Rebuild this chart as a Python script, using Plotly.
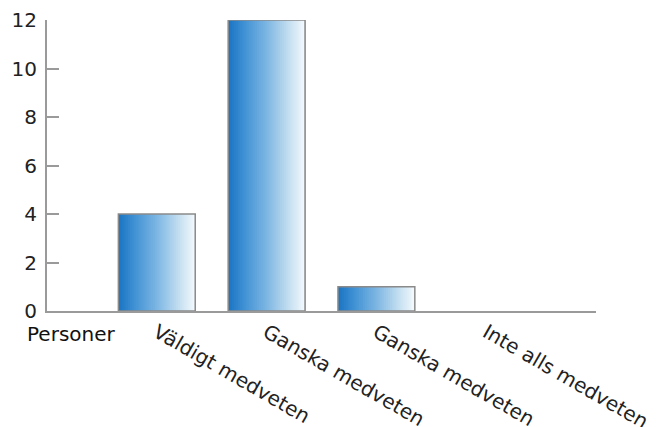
import plotly.graph_objects as go

categories = ["Väldigt medveten", "Ganska medveten", "Ganska medveten", "Inte alls medveten"]
positions = [1, 2, 3, 4]
values = [4, 12, 1, 0]
y_ticks = [0, 2, 4, 6, 8, 10, 12]
row_label = "Personer"

# horizontal gradient stops (left -> right)
stops = [(0.0, (28, 118, 196)), (0.2, (64, 145, 212)), (0.5, (125, 182, 226)),
         (0.8, (196, 223, 241)), (1.0, (242, 248, 252))]


def grad(t):
    for (t0, c0), (t1, c1) in zip(stops[:-1], stops[1:]):
        if t0 <= t <= t1:
            f = (t - t0) / (t1 - t0)
            return "rgb(%d,%d,%d)" % tuple(round(a + (b - a) * f) for a, b in zip(c0, c1))
    return "rgb(%d,%d,%d)" % stops[-1][1]


fig = go.Figure()
W = 0.7
N = 40
for i in range(N):
    fig.add_trace(go.Bar(
        x=positions, y=values,
        width=W * (1 - i / N), offset=-W / 2 + i * W / N,
        marker=dict(color=grad(i / (N - 1)), line=dict(width=0)),
        showlegend=False, hoverinfo="skip",
    ))
fig.add_trace(go.Bar(
    x=positions, y=values, width=W, offset=-W / 2,
    marker=dict(color="rgba(0,0,0,0)",
                line=dict(color="#8a8a8a", width=[1.5 if v > 0 else 0 for v in values])),
    showlegend=False, hoverinfo="skip",
))
# invisible trace to host the end tick on the overlay axis
fig.add_trace(go.Scatter(x=[5], y=[0], xaxis="x2", mode="markers",
                         marker=dict(opacity=0), showlegend=False, hoverinfo="skip"))

fig.update_layout(
    width=656, height=427,
    margin=dict(l=47, r=60, t=20, b=116),
    paper_bgcolor="white", plot_bgcolor="white",
    barmode="overlay",
    font=dict(family="DejaVu Sans", color="#222"),
    xaxis=dict(range=[0, 5], tickvals=positions, ticktext=categories,
               tickangle=30, ticks="", showline=True, linecolor="#9a9a9a",
               linewidth=2, showgrid=False, zeroline=False, automargin=False,
               ticklabeloverflow="allow",
               tickfont=dict(size=20, color="#222")),
    xaxis2=dict(range=[0, 5], overlaying="x", side="bottom", tickvals=[5],
                ticks="inside", ticklen=9, tickcolor="#9a9a9a", tickwidth=2,
                showticklabels=False, showline=False, showgrid=False,
                zeroline=False, automargin=False),
    yaxis=dict(range=[0, 12], tickvals=y_ticks, ticks="inside", ticklen=12,
               tickcolor="#9a9a9a", tickwidth=1.5, showline=True,
               linecolor="#9a9a9a", linewidth=2, showgrid=False, zeroline=False,
               automargin=False, ticklabelstandoff=4, ticklabeloverflow="allow",
               tickfont=dict(size=20, color="#222")),
    annotations=[dict(text=row_label, xref="paper", yref="paper",
                      x=-0.04, y=-0.079, xanchor="left", yanchor="middle",
                      showarrow=False, font=dict(size=20, color="#111"))],
)

fig.write_html("out.html", config={"displayModeBar": False},
               post_script="document.body.style.margin='0';document.body.style.overflow='hidden';")
